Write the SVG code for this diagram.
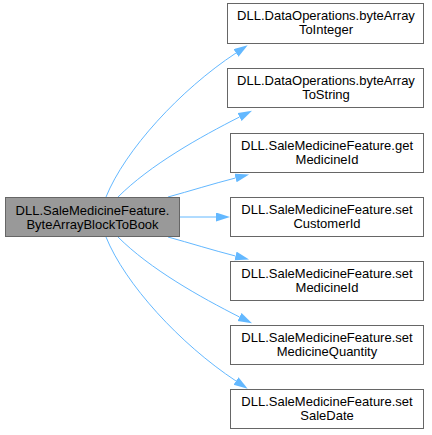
<svg xmlns="http://www.w3.org/2000/svg" width="432" height="435" viewBox="0 0 432 435">
<defs>
<style>
.node rect{fill:#ffffff;stroke:#666666;stroke-width:1}
#main rect{fill:#999999;stroke:#666666}
text{font-family:"Liberation Sans",Arial,sans-serif;font-size:13px;fill:#000000;text-anchor:middle}
.edge{fill:none;stroke:#63b8ff;stroke-width:1;marker-end:url(#arrow)}
</style>
<marker id="arrow" markerUnits="userSpaceOnUse" markerWidth="15" markerHeight="10" refX="0" refY="4.5" orient="auto">
<path d="M0,0 L14,4.5 L0,9 z" fill="#63b8ff"/>
</marker>
</defs>
<rect width="432" height="435" fill="#ffffff"/>
<g id="connectors">
<path class="edge" d="M106,197 C125,150 180,90 236,53"/>
<path class="edge" d="M118,197 C150,165 200,137 239.5,117"/>
<path class="edge" d="M168,197 C190,191 212,184 235.5,178"/>
<path class="edge" d="M180,217 L216,217"/>
<path class="edge" d="M168,237 C190,243 212,250 235.5,256"/>
<path class="edge" d="M118,237 C150,269 200,297 239.5,317"/>
<path class="edge" d="M106,237 C125,284 180,344 236,381"/>
</g>
<g id="main" class="node">
<rect x="5.5" y="197.5" width="174" height="39"/>
<text x="92.5" y="214.5">DLL.SaleMedicineFeature.</text>
<text x="92.5" y="228.5">ByteArrayBlockToBook</text>
</g>
<g id="n1" class="node">
<rect x="227.5" y="3.5" width="196" height="40"/>
<text x="326" y="20">DLL.DataOperations.byteArray</text>
<text x="326" y="34">ToInteger</text>
</g>
<g id="n2" class="node">
<rect x="227.5" y="68.5" width="196" height="39"/>
<text x="326" y="84.5">DLL.DataOperations.byteArray</text>
<text x="326" y="98.5">ToString</text>
</g>
<g id="n3" class="node">
<rect x="230.5" y="133.5" width="193" height="39"/>
<text x="327" y="149.5">DLL.SaleMedicineFeature.get</text>
<text x="327" y="163.5">MedicineId</text>
</g>
<g id="n4" class="node">
<rect x="230.5" y="197.5" width="193" height="39"/>
<text x="327" y="214">DLL.SaleMedicineFeature.set</text>
<text x="327" y="228">CustomerId</text>
</g>
<g id="n5" class="node">
<rect x="230.5" y="261.5" width="193" height="39"/>
<text x="327" y="278">DLL.SaleMedicineFeature.set</text>
<text x="327" y="292">MedicineId</text>
</g>
<g id="n6" class="node">
<rect x="230.5" y="325.5" width="193" height="39"/>
<text x="327" y="342">DLL.SaleMedicineFeature.set</text>
<text x="327" y="356">MedicineQuantity</text>
</g>
<g id="n7" class="node">
<rect x="230.5" y="389.5" width="193" height="39"/>
<text x="327" y="406">DLL.SaleMedicineFeature.set</text>
<text x="327" y="420">SaleDate</text>
</g>
</svg>
